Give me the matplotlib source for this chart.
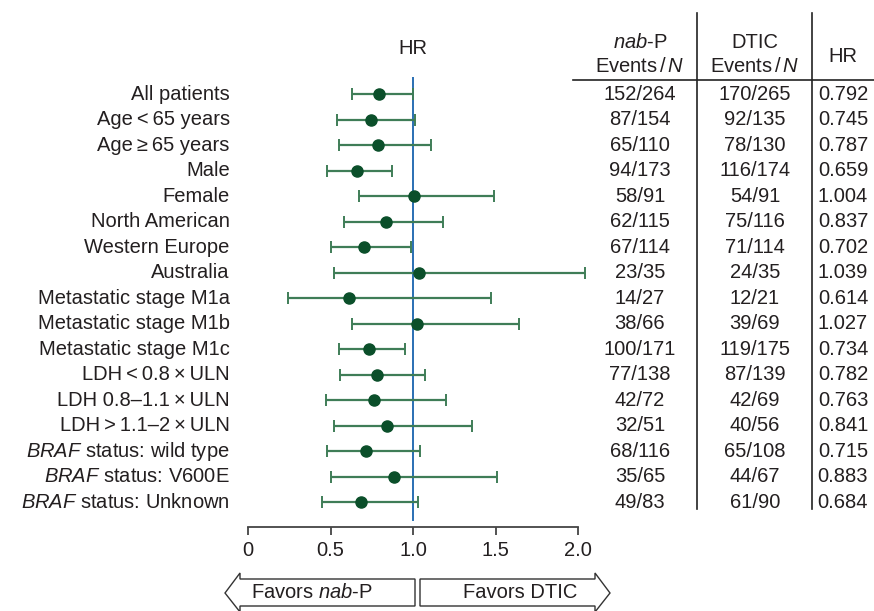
import matplotlib
matplotlib.use("Agg")
import matplotlib.pyplot as plt
from matplotlib import transforms
from matplotlib.patches import Polygon

plt.rcParams['font.family'] = ['Liberation Sans', 'DejaVu Sans']
plt.rcParams['mathtext.fontset'] = 'custom'
plt.rcParams['mathtext.rm'] = 'Liberation Sans'
plt.rcParams['mathtext.it'] = 'Liberation Sans:italic'

T = "\u2009"  # thin space

# subgroup data
labels = [
    "All patients", f"Age{T}<{T}65 years", f"Age{T}\u2265{T}65 years", "Male", "Female",
    "North American", "Western Europe", "Australia",
    "Metastatic stage M1a", "Metastatic stage M1b", "Metastatic stage M1c",
    f"LDH{T}<{T}0.8{T}\u00d7{T}ULN", f"LDH 0.8\u20131.1{T}\u00d7{T}ULN",
    f"LDH{T}>{T}1.1\u20132{T}\u00d7{T}ULN",
    r"$\mathit{BRAF}$ status: wild type", r"$\mathit{BRAF}$ status: V600E",
    r"$\mathit{BRAF}$ status: Unknown",
]
hr = [0.792, 0.745, 0.787, 0.659, 1.004, 0.837, 0.702, 1.039, 0.614, 1.027,
      0.734, 0.782, 0.763, 0.841, 0.715, 0.883, 0.684]
ci_low = [0.63, 0.54, 0.55, 0.48, 0.67, 0.58, 0.50, 0.52, 0.24, 0.63,
          0.55, 0.56, 0.47, 0.52, 0.48, 0.50, 0.45]
ci_high = [1.00, 1.01, 1.11, 0.87, 1.49, 1.18, 0.99, 2.04, 1.47, 1.64,
           0.95, 1.07, 1.20, 1.36, 1.04, 1.51, 1.03]
nabp_events = ["152/264", "87/154", "65/110", "94/173", "58/91", "62/115", "67/114",
               "23/35", "14/27", "38/66", "100/171", "77/138", "42/72", "32/51",
               "68/116", "35/65", "49/83"]
dtic_events = ["170/265", "92/135", "78/130", "116/174", "54/91", "75/116", "71/114",
               "24/35", "12/21", "39/69", "119/175", "87/139", "42/69", "40/56",
               "65/108", "44/67", "61/90"]
xticks = [0, 0.5, 1.0, 1.5, 2.0]
xticklabels = ["0", "0.5", "1.0", "1.5", "2.0"]

W, H = 874, 611
txt = "#231f20"
fs = 14.5
fig = plt.figure(figsize=(W / 100, H / 100), dpi=100)

# forest axes: x=0 at px 248, x=2 at px 578; spine at px 527
ax = fig.add_axes([248 / W, (H - 527) / H, 330 / W, (527 - 77) / H])
n = len(labels)
rows = list(range(n))
ax.set_xlim(0, 2.0)
ax.set_ylim(n - 1 + 0.98, -0.67)

ax.plot([1, 1], [-0.67, n - 1 + 0.7], color="#2a6fb3", lw=1.4, zorder=1)
ax.errorbar(hr, rows, xerr=[[h - l for h, l in zip(hr, ci_low)],
                            [u - h for h, u in zip(hr, ci_high)]],
            fmt="none", ecolor="#3f7d57", elinewidth=1.6, capsize=4.5,
            capthick=1.4, clip_on=False, zorder=2)
ax.plot(hr, rows, "o", color="#0b4f2a", ms=8, clip_on=False, zorder=3)

for s in ["top", "right", "left"]:
    ax.spines[s].set_visible(False)
ax.spines["bottom"].set_color("#444444")
ax.spines["bottom"].set_linewidth(1.3)
ax.set_yticks([])
ax.set_xticks(xticks)
ax.set_xticklabels(xticklabels, fontsize=fs, color=txt)
ax.tick_params(axis="x", direction="out", length=6, width=1.3, color="#444444", pad=4)

for i, lab in enumerate(labels):
    ax.text(-0.11, i, lab, ha="right", va="center", fontsize=fs, color=txt)

# table columns
tr = transforms.blended_transform_factory(fig.transFigure, ax.transData)
for i in rows:
    ax.text(640 / W, i, nabp_events[i], transform=tr, ha="center", va="center",
            fontsize=fs, color=txt)
    ax.text(755 / W, i, dtic_events[i], transform=tr, ha="center", va="center",
            fontsize=fs, color=txt)
    ax.text(843 / W, i, f"{hr[i]:.3f}", transform=tr, ha="center", va="center",
            fontsize=fs, color=txt)

# overlay in pixel coords for header, rules, arrows
ov = fig.add_axes([0, 0, 1, 1])
ov.set_xlim(0, W)
ov.set_ylim(H, 0)
ov.axis("off")
ov.patch.set_alpha(0)

ev = r"Events$\,$/$\,\mathit{N}$"
ov.text(413, 48, "HR", ha="center", va="center", fontsize=fs, color=txt)
ov.text(640, 43, r"$\mathit{nab}$-P", ha="center", va="center", fontsize=fs, color=txt)
ov.text(640, 67, ev, ha="center", va="center", fontsize=fs, color=txt)
ov.text(755, 43, "DTIC", ha="center", va="center", fontsize=fs, color=txt)
ov.text(755, 67, ev, ha="center", va="center", fontsize=fs, color=txt)
ov.text(843, 57, "HR", ha="center", va="center", fontsize=fs, color=txt)

ov.plot([573, W], [80, 80], color="#222222", lw=1.2)
ov.plot([697, 697], [13, 509], color="#222222", lw=1.2)
ov.plot([812, 812], [13, 509], color="#222222", lw=1.2)

left_arrow = [(225, 593), (240, 573), (240, 579), (415, 579), (415, 606),
              (240, 606), (240, 612)]
right_arrow = [(610, 593), (595, 573), (595, 579), (420, 579), (420, 606),
               (595, 606), (595, 612)]
for pts in (left_arrow, right_arrow):
    ov.add_patch(Polygon(pts, closed=True, fill=False, ec="#333333", lw=1.0,
                         clip_on=False))
ov.text(312, 593, r"Favors $\mathit{nab}$-P", ha="center", va="center",
        fontsize=fs, color=txt)
ov.text(520, 593, "Favors DTIC", ha="center", va="center", fontsize=fs, color=txt)

fig.savefig("out.png", dpi=100)
